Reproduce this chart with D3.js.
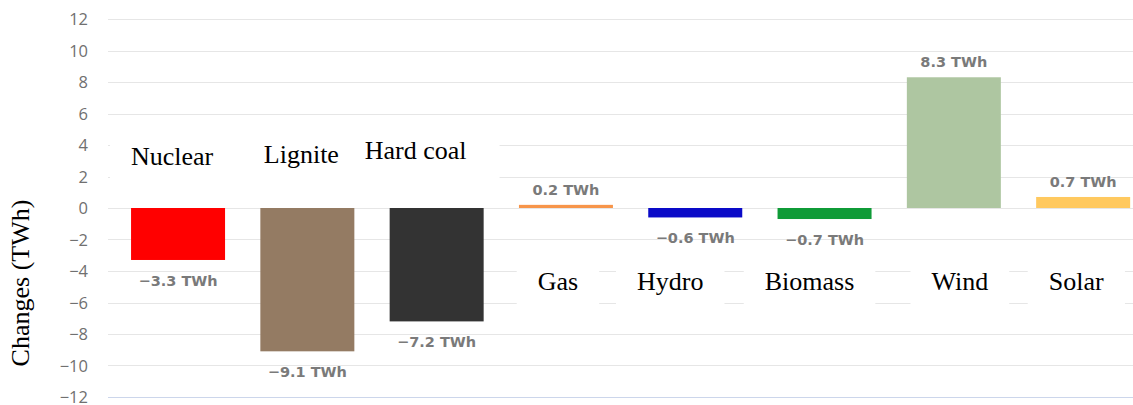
<!DOCTYPE html>
<html>
<head>
<meta charset="utf-8">
<script src="https://cdn.jsdelivr.net/npm/d3@7"></script>
<style>
  html, body { margin: 0; padding: 0; background: #fff; }
  svg { display: block; }
</style>
</head>
<body>
<svg id="chart" width="1133" height="405"></svg>
<script>
// Year-on-year change in net generation per source (TWh)
const categories = ["Nuclear", "Lignite", "Hard coal", "Gas", "Hydro", "Biomass", "Wind", "Solar"];
const changes = [-3.3, -9.1, -7.2, 0.2, -0.6, -0.7, 8.3, 0.7];
const barColors = ["#ff0000", "#947b63", "#333333", "#f7954a", "#0a0ac8", "#0f9b37", "#aec6a1", "#ffc95f"];
const yTicks = [12, 10, 8, 6, 4, 2, 0, -2, -4, -6, -8, -10, -12];
const yTitle = "Changes (TWh)";
const unit = "TWh";

const W = 1133, H = 405;
const svg = d3.select("#chart");

const y = d3.scaleLinear().domain([-12, 12]).range([397, 19]);
const x = d3.scaleBand()
  .domain(categories)
  .range([113.4, 1147.8])
  .paddingInner(0.273)
  .paddingOuter(0.1365);

const fmt = d3.format("");

// gridlines
const grid = svg.append("g");
grid.selectAll("line")
  .data(yTicks)
  .join("line")
  .attr("x1", 108).attr("x2", W)
  .attr("y1", d => Math.round(y(d)) + 0.5)
  .attr("y2", d => Math.round(y(d)) + 0.5)
  .attr("stroke", d => d === -12 ? "#ccd6eb" : "#e6e6e6")
  .attr("stroke-width", 1);

// y axis labels
const yAxis = d3.axisLeft(y).tickValues(yTicks).tickFormat(fmt).tickSize(0).tickPadding(0);
const yg = svg.append("g").attr("transform", "translate(88,0)").call(yAxis);
yg.select(".domain").remove();
yg.selectAll("text")
  .attr("fill", "#707070")
  .attr("font-family", "Open Sans, sans-serif")
  .attr("font-size", 16.5)
  .attr("dy", "0.34em");

// bars
svg.append("g").selectAll("rect")
  .data(changes)
  .join("rect")
  .attr("x", (d, i) => x(categories[i]))
  .attr("width", x.bandwidth())
  .attr("y", d => y(Math.max(0, d)))
  .attr("height", d => Math.abs(y(d) - y(0)))
  .attr("fill", (d, i) => barColors[i]);

// value labels
svg.append("g").selectAll("text")
  .data(changes)
  .join("text")
  .attr("x", (d, i) => x(categories[i]) + x.bandwidth() / 2)
  .attr("y", d => d >= 0 ? y(d) - 10 : y(d) + 26)
  .attr("text-anchor", "middle")
  .attr("font-family", "DejaVu Sans, sans-serif")
  .attr("font-weight", "bold")
  .attr("font-size", 14.5)
  .attr("fill", "#7a7a7a")
  .text(d => `${fmt(d)} ${unit}`);

// category annotations (set over white boxes above / below the bars)
const annot = [
  { dx: -6, y: 165, top: true },
  { dx: -6, y: 163, top: true },
  { dx: -21, y: 159, top: true },
  { dx: -8, y: 290 },
  { dx: -25, y: 290 },
  { dx: -15, y: 290 },
  { dx: 6, y: 290 },
  { dx: -7, y: 290 }
];
const boxLayer = svg.append("g");
const labelLayer = svg.append("g");
const labels = labelLayer.selectAll("text")
  .data(categories)
  .join("text")
  .attr("x", (d, i) => x(d) + x.bandwidth() / 2 + annot[i].dx)
  .attr("y", (d, i) => annot[i].y)
  .attr("text-anchor", "middle")
  .attr("font-family", "Liberation Serif, Times New Roman, serif")
  .attr("font-size", 26)
  .attr("fill", "#000")
  .text(d => d);

// white backing boxes
const topBoxes = [];
labels.each(function (d, i) {
  const b = this.getBBox();
  if (annot[i].top) {
    topBoxes.push(b);
  } else {
    boxLayer.append("rect")
      .attr("x", b.x - 21).attr("width", b.width + 42)
      .attr("y", 262).attr("height", 48)
      .attr("fill", "#fff");
  }
});
if (topBoxes.length) {
  const x0 = 110;
  const x1 = d3.max(topBoxes, b => b.x + b.width) + 33;
  boxLayer.append("rect")
    .attr("x", x0).attr("width", x1 - x0)
    .attr("y", 130).attr("height", 52)
    .attr("fill", "#fff");
}

// y axis title
svg.append("text")
  .attr("transform", `translate(29,${283}) rotate(-90)`)
  .attr("text-anchor", "middle")
  .attr("font-family", "Liberation Serif, Times New Roman, serif")
  .attr("font-size", 26)
  .attr("fill", "#000")
  .text(yTitle);
</script>
</body>
</html>
